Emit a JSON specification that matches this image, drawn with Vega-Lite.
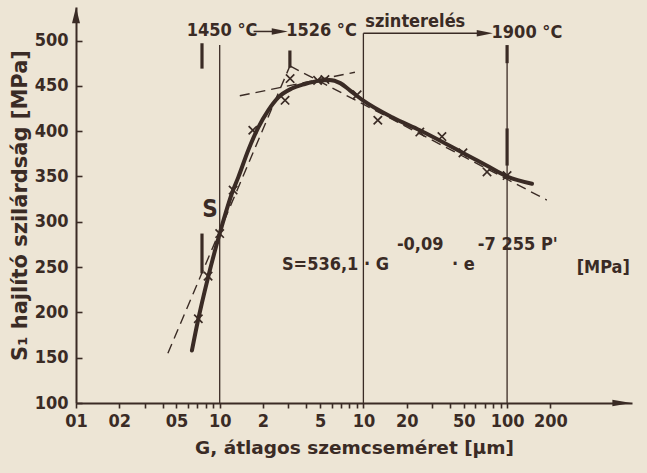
{
  "$schema": "https://vega.github.io/schema/vega-lite/v6.json",
  "width": 556,
  "height": 396,
  "autosize": {"type": "none"},
  "padding": {"left": 76, "top": 7, "right": 15, "bottom": 70},
  "background": "#ede5d5",
  "config": {
    "view": {"stroke": null},
    "font": "DejaVu Sans Condensed",
    "text": {"font": "DejaVu Sans Condensed", "fontWeight": "bold", "fontSize": 18, "color": "#3a2b25", "align": "left", "baseline": "middle"}
  },
  "datasets": {
    "vlines": [
      {"g": 1, "s": 100, "s2": 495},
      {"g": 10, "s": 100, "s2": 508},
      {"g": 100, "s": 100, "s2": 491}
    ],
    "bars": [
      {"g": 0.753, "s": 469, "s2": 497},
      {"g": 0.753, "s": 243, "s2": 287},
      {"g": 3.08, "s": 470, "s2": 489},
      {"g": 100, "s": 475, "s2": 495},
      {"g": 100, "s": 362, "s2": 403}
    ],
    "dashed": [
      {"seg": "rise", "g": 0.436, "s": 155},
      {"seg": "rise", "g": 3.08, "s": 472},
      {"seg": "top", "g": 1.38, "s": 439},
      {"seg": "top", "g": 8.73, "s": 465},
      {"seg": "fall", "g": 3.08, "s": 472},
      {"seg": "fall", "g": 189, "s": 324}
    ],
    "curve": [
      {"g": 0.641, "s": 158},
      {"g": 0.706, "s": 191},
      {"g": 0.828, "s": 238},
      {"g": 1.0, "s": 287},
      {"g": 1.24, "s": 335},
      {"g": 1.346, "s": 349},
      {"g": 1.58, "s": 379},
      {"g": 1.854, "s": 404},
      {"g": 2.177, "s": 423},
      {"g": 2.55, "s": 437},
      {"g": 3.17, "s": 447},
      {"g": 3.92, "s": 452},
      {"g": 4.85, "s": 455.5},
      {"g": 5.8, "s": 456.5},
      {"g": 6.9, "s": 453},
      {"g": 8.05, "s": 445},
      {"g": 9.93, "s": 434},
      {"g": 16, "s": 415},
      {"g": 24.7, "s": 401},
      {"g": 49.3, "s": 376},
      {"g": 72, "s": 362},
      {"g": 99.7, "s": 350},
      {"g": 149, "s": 342}
    ],
    "measured": [
      {"g": 0.71, "s": 193},
      {"g": 0.83, "s": 240},
      {"g": 1.0, "s": 287},
      {"g": 1.24, "s": 335},
      {"g": 1.7, "s": 401},
      {"g": 2.85, "s": 434},
      {"g": 3.09, "s": 458},
      {"g": 4.8, "s": 456},
      {"g": 5.4, "s": 457},
      {"g": 9.04, "s": 440},
      {"g": 12.6, "s": 412},
      {"g": 24.7, "s": 399},
      {"g": 35.2, "s": 394},
      {"g": 49.3, "s": 376},
      {"g": 72.5, "s": 355},
      {"g": 100, "s": 351}
    ],
    "hlines": [
      {"g": 10, "g2": 66, "s": 508},
      {"g": 1.72, "g2": 2.5, "s": 510}
    ],
    "heads": [
      {"g": 70, "s": 508},
      {"g": 2.62, "s": 510}
    ],
    "labels": [
      {"text": "1450 °C", "g": 0.59, "s": 510},
      {"text": "1526 °C", "g": 2.9, "s": 510},
      {"text": "szinterelés", "g": 10.3, "s": 520},
      {"text": "1900 °C", "g": 78, "s": 508},
      {"text": "S=536,1 · G", "g": 2.71, "s": 252},
      {"text": "-0,09", "g": 17.1, "s": 274},
      {"text": "· e", "g": 41.3, "s": 252},
      {"text": "-7 255 P'", "g": 62.6, "s": 274},
      {"text": "[MPa]", "g": 305, "s": 249}
    ],
    "bigS": [
      {"text": "S", "g": 0.855, "s": 313}
    ],
    "yArrow": [{"g": 0.1, "s": 528}],
    "xArrow": [{"g": 629, "s": 100}]
  },
  "layer": [
    {
      "data": {"name": "vlines"},
      "mark": {"type": "rule", "color": "#3a2b25", "strokeWidth": 1.3},
      "encoding": {
        "x": {
          "field": "g",
          "type": "quantitative",
          "scale": {"type": "log", "domain": [0.1, 740], "nice": false},
          "axis": {
            "values": [0.1, 0.2, 0.3, 0.4, 0.5, 0.6, 0.7, 0.8, 0.9, 1, 2, 3, 4, 5, 6, 7, 8, 9, 10, 20, 30, 40, 50, 60, 70, 80, 90, 100, 200],
            "labelExpr": "datum.value == 0.1 ? '01' : datum.value == 0.2 ? '02' : datum.value == 0.5 ? '05' : datum.value == 1 ? '10' : indexof([2, 5, 10, 20, 50, 100, 200], datum.value) >= 0 ? '' + datum.value : ''",
            "grid": false,
            "domainColor": "#3a2b25",
            "domainWidth": 2,
            "tickColor": "#3a2b25",
            "tickWidth": 1.6,
            "tickSize": 5,
            "labelColor": "#3a2b25",
            "labelFont": "DejaVu Sans Condensed",
            "labelFontWeight": "bold",
            "labelFontSize": 18,
            "labelPadding": 4,
            "labelOverlap": false,
            "labelFlush": false,
            "title": "G, átlagos szemcseméret [μm]",
            "titleColor": "#3a2b25",
            "titleFont": "DejaVu Sans",
            "titleFontWeight": "bold",
            "titleFontSize": 18.5,
            "titlePadding": 8
          }
        },
        "y": {
          "field": "s",
          "type": "quantitative",
          "scale": {"domain": [100, 537], "nice": false, "zero": false},
          "axis": {
            "values": [100, 150, 200, 250, 300, 350, 400, 450, 500],
            "grid": false,
            "domainColor": "#3a2b25",
            "domainWidth": 2,
            "tickColor": "#3a2b25",
            "tickWidth": 1.6,
            "tickSize": -6,
            "labelColor": "#3a2b25",
            "labelFont": "DejaVu Sans Condensed",
            "labelFontWeight": "bold",
            "labelFontSize": 18,
            "labelPadding": 14,
            "labelOverlap": false,
            "labelFlush": false,
            "title": "S₁ hajlító szilárdság [MPa]",
            "titleColor": "#3a2b25",
            "titleFont": "DejaVu Sans",
            "titleFontWeight": "bold",
            "titleFontSize": 21,
            "titlePadding": 4
          }
        },
        "y2": {"field": "s2"}
      }
    },
    {
      "data": {"name": "bars"},
      "mark": {"type": "rule", "color": "#3a2b25", "strokeWidth": 3.2},
      "encoding": {
        "x": {"field": "g", "type": "quantitative"},
        "y": {"field": "s", "type": "quantitative"},
        "y2": {"field": "s2"}
      }
    },
    {
      "data": {"name": "dashed"},
      "mark": {"type": "line", "color": "#3a2b25", "strokeWidth": 1.4, "strokeDash": [10, 6]},
      "encoding": {
        "x": {"field": "g", "type": "quantitative"},
        "y": {"field": "s", "type": "quantitative"},
        "detail": {"field": "seg"}
      }
    },
    {
      "data": {"name": "curve"},
      "mark": {"type": "line", "color": "#3a2b25", "strokeWidth": 4, "interpolate": "monotone", "strokeCap": "round"},
      "encoding": {
        "x": {"field": "g", "type": "quantitative"},
        "y": {"field": "s", "type": "quantitative"}
      }
    },
    {
      "data": {"name": "measured"},
      "mark": {"type": "point", "shape": "M-1,-1L1,1M-1,1L1,-1", "filled": false, "size": 70, "strokeWidth": 1.7, "color": "#3a2b25", "opacity": 1},
      "encoding": {
        "x": {"field": "g", "type": "quantitative"},
        "y": {"field": "s", "type": "quantitative"}
      }
    },
    {
      "data": {"name": "hlines"},
      "mark": {"type": "rule", "color": "#3a2b25", "strokeWidth": 1.5},
      "encoding": {
        "x": {"field": "g", "type": "quantitative"},
        "x2": {"field": "g2"},
        "y": {"field": "s", "type": "quantitative"}
      }
    },
    {
      "data": {"name": "heads"},
      "mark": {"type": "point", "shape": "M1,0L-1,-0.4L-1,0.4Z", "filled": true, "size": 260, "color": "#3a2b25", "opacity": 1},
      "encoding": {
        "x": {"field": "g", "type": "quantitative"},
        "y": {"field": "s", "type": "quantitative"}
      }
    },
    {
      "data": {"name": "yArrow"},
      "mark": {"type": "point", "shape": "M0,-1L0.5,1L-0.5,1Z", "filled": true, "size": 256, "color": "#3a2b25", "opacity": 1, "clip": false},
      "encoding": {
        "x": {"field": "g", "type": "quantitative"},
        "y": {"field": "s", "type": "quantitative"}
      }
    },
    {
      "data": {"name": "xArrow"},
      "mark": {"type": "point", "shape": "M1,0L-1,-0.35L-1,0.35Z", "filled": true, "size": 361, "color": "#3a2b25", "opacity": 1, "clip": false},
      "encoding": {
        "x": {"field": "g", "type": "quantitative"},
        "y": {"field": "s", "type": "quantitative"}
      }
    },
    {
      "data": {"name": "labels"},
      "mark": {"type": "text"},
      "encoding": {
        "x": {"field": "g", "type": "quantitative"},
        "y": {"field": "s", "type": "quantitative"},
        "text": {"field": "text"}
      }
    },
    {
      "data": {"name": "bigS"},
      "mark": {"type": "text", "fontSize": 24, "align": "center"},
      "encoding": {
        "x": {"field": "g", "type": "quantitative"},
        "y": {"field": "s", "type": "quantitative"},
        "text": {"field": "text"}
      }
    }
  ]
}
